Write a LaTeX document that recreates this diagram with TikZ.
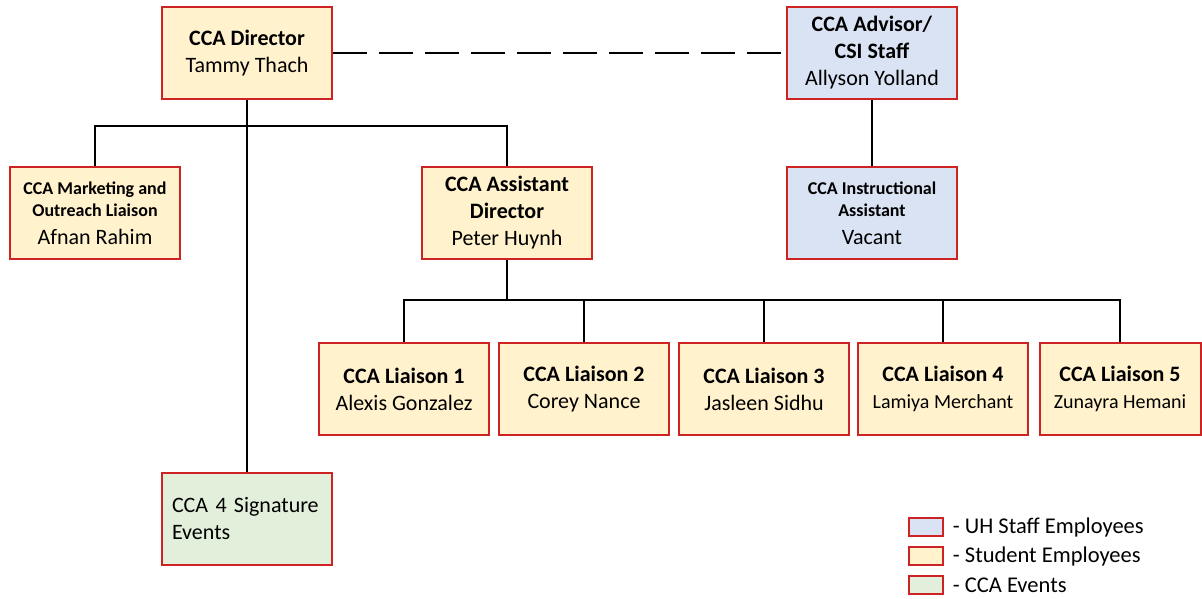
\documentclass[tikz,border=0pt]{standalone}
\usepackage{fontspec}
\setmainfont{Carlito}
\definecolor{boxred}{RGB}{205,35,35}
\definecolor{studentfill}{RGB}{255,242,204}
\definecolor{stafffill}{RGB}{218,227,243}
\definecolor{eventfill}{RGB}{226,239,218}
\newcommand{\bigfont}{\fontsize{22}{27}\selectfont}
\newcommand{\smallfont}{\fontsize{18}{22}\selectfont\bfseries}
\tikzset{
  post/.style={draw=boxred, line width=2pt, minimum width=170pt, minimum height=92pt,
    align=center, inner sep=0pt, font=\bigfont},
  student/.style={post, fill=studentfill},
  staff/.style={post, fill=stafffill},
  events/.style={post, fill=eventfill},
  link/.style={line width=1.5pt},
  keybox/.style={draw=boxred, line width=1.5pt, minimum width=34pt, minimum height=18pt, inner sep=0pt},
  keytext/.style={anchor=west, font=\fontsize{22.5}{27}\selectfont, inner sep=0pt},
}
\begin{document}
\begin{tikzpicture}[x=1pt,y=-1pt]
\useasboundingbox (0,0) rectangle (1202,598);

% top row
\node[student] (director) at (247,53) {\textbf{CCA Director}\\Tammy Thach};
\node[staff] (advisor) at (872,53) {\textbf{CCA Advisor/}\\\textbf{CSI Staff}\\Allyson Yolland};
\draw[link, dash pattern=on 34pt off 12pt] (director) -- (advisor);

% second row
\node[student] (marketing) at (95,213) {\smallfont CCA Marketing and\\[-5pt]\smallfont Outreach Liaison\\[1pt]\bigfont Afnan Rahim};
\node[student] (assistant) at (507,213) {\textbf{CCA Assistant}\\\textbf{Director}\\Peter Huynh};
\node[staff] (instructional) at (872,213) {\smallfont CCA Instructional\\[-5pt]\smallfont Assistant\\[1pt]\bigfont Vacant};

\coordinate (bus) at (247,126);
\draw[link] (marketing.north) |- (bus) -| (assistant.north);
\draw[link] (advisor) -- (instructional);

% liaisons
\node[student] (liaison1) at (404,389) {\textbf{CCA Liaison 1}\\Alexis Gonzalez};
\node[student] (liaison2) at (584,389) {\textbf{CCA Liaison 2}\\Corey Nance};
\node[student] (liaison3) at (764,389) {\textbf{CCA Liaison 3}\\Jasleen Sidhu};
\node[student] (liaison4) at (943,389) {\textbf{CCA Liaison 4}\\\fontsize{20}{24}\selectfont Lamiya Merchant};
\node[student, minimum width=161pt] (liaison5) at (1120,389) {\textbf{CCA Liaison 5}\\\fontsize{20}{24}\selectfont Zunayra Hemani};

\coordinate (liaisonbus) at (507,300);
\draw[link] (assistant) -- (liaisonbus);
\foreach \i in {1,...,5}
  \draw[link] (liaisonbus) -| (liaison\i.north);

% events
\node[events, align=left, text width=150pt, inner xsep=10pt] (signature) at (247,519) {CCA 4 Signature\\Events};
\draw[link] (director) -- (signature);

% legend
\node[keybox, fill=stafffill] (keystaff) at (926,527) {};
\node[keybox, fill=studentfill] (keystudent) at (926,556) {};
\node[keybox, fill=eventfill] (keyevents) at (926,585) {};
\node[keytext] at ([xshift=9pt]keystaff.east) {- UH Staff Employees};
\node[keytext] at ([xshift=9pt]keystudent.east) {- Student Employees};
\node[keytext] at ([xshift=9pt]keyevents.east) {- CCA Events};
\end{tikzpicture}
\end{document}
